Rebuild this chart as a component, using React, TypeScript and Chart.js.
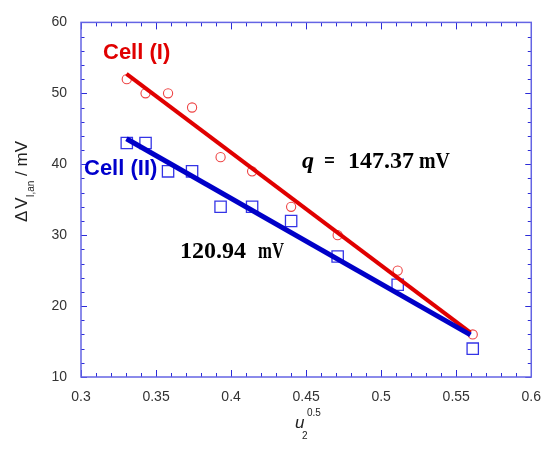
import React, { useEffect, useRef } from 'react';
import { Chart, registerables } from 'chart.js';

Chart.register(...registerables);

// ---- data ----
const xValues = [0.3305, 0.343, 0.358, 0.374, 0.393, 0.414, 0.44, 0.471, 0.511, 0.561];
const cellIValues = [52, 50, 50, 48, 41, 39, 34, 30, 25, 16];
const cellIIValues = [43, 43, 39, 39, 34, 34, 32, 27, 23, 14];
const fitX = [0.3303, 0.5595];
const fitIValues = [52.75, 16.25];
const fitIIValues = [43.6, 15.95];
const xTickLabels = ['0.3', '0.35', '0.4', '0.45', '0.5', '0.55', '0.6'];
const yTickLabels = ['10', '20', '30', '40', '50', '60'];
const xMinorStep = 0.01;
const yMinorStep = 2;

const framePlugin = {
  id: 'frameAndText',
  afterDraw(chart: any) {
    const { ctx, chartArea: a, scales } = chart;
    const xs = scales.x;
    const ys = scales.y;
    ctx.save();
    // inward ticks on all four sides
    ctx.strokeStyle = '#2c2cd8';
    ctx.lineWidth = 1;
    const seg = (x1: number, y1: number, x2: number, y2: number) => {
      ctx.beginPath();
      ctx.moveTo(x1, y1);
      ctx.lineTo(x2, y2);
      ctx.stroke();
    };
    const nx = Math.round((xs.max - xs.min) / xMinorStep);
    for (let i = 0; i <= nx; i++) {
      const px = Math.round(xs.getPixelForValue(xs.min + i * xMinorStep)) + 0.5;
      const L = i % 5 === 0 ? 7 : 4;
      seg(px, a.bottom, px, a.bottom - L);
      seg(px, a.top, px, a.top + L);
    }
    const ny = Math.round((ys.max - ys.min) / yMinorStep);
    for (let i = 0; i <= ny; i++) {
      const py = Math.round(ys.getPixelForValue(ys.min + i * yMinorStep)) + 0.5;
      const L = i % 5 === 0 ? 6 : 3.5;
      seg(a.left, py, a.left + L, py);
      seg(a.right, py, a.right - L, py);
    }
    // frame
    ctx.strokeStyle = '#6464e4';
    ctx.lineWidth = 1.5;
    ctx.strokeRect(a.left, a.top, a.right - a.left, a.bottom - a.top);

    // annotations
    ctx.textBaseline = 'alphabetic';
    ctx.textAlign = 'left';
    ctx.font = 'bold 22px "Liberation Sans"';
    ctx.fillStyle = '#e00000';
    ctx.fillText('Cell (I)', 103, 59);
    ctx.fillStyle = '#0000cc';
    ctx.fillText('Cell (II)', 84, 175);

    ctx.fillStyle = '#000';
    ctx.font = 'italic bold 24px "Liberation Serif"';
    ctx.fillText('q', 302, 168, 12);
    ctx.font = 'bold 24px "Liberation Serif"';
    ctx.fillText('=', 324, 168, 11);
    ctx.fillText('147.37', 348, 168);
    ctx.fillText('mV', 419, 168, 31);
    ctx.fillText('120.94', 180, 257.5);
    ctx.fillText('mV', 258, 257.5, 26);

    // x-axis title
    ctx.fillStyle = '#222';
    ctx.font = 'italic 17px "Liberation Sans"';
    ctx.fillText('u', 295, 428);
    ctx.font = '10px "Liberation Sans"';
    ctx.fillText('2', 302, 439);
    ctx.fillText('0.5', 307, 416);

    // y-axis title (rotated)
    ctx.translate(27, 222);
    ctx.rotate(-Math.PI / 2);
    ctx.font = '17px "Liberation Sans"';
    let cx = 0;
    ctx.fillText('\u0394', cx, 0);
    cx += ctx.measureText('\u0394').width + 2;
    ctx.fillText('V', cx, 0);
    cx += ctx.measureText('V').width;
    ctx.font = '10px "Liberation Sans"';
    ctx.fillText('I,an', cx, 7);
    cx += ctx.measureText('I,an').width;
    ctx.font = '17px "Liberation Sans"';
    ctx.fillText(' / mV', cx, 0);
    ctx.restore();
  },
};

export default function App() {
  const ref = useRef<HTMLCanvasElement | null>(null);
  useEffect(() => {
    document.body.style.margin = '0';
    const canvas = ref.current;
    if (!canvas) return;
    const chart = new Chart(canvas, {
      type: 'scatter',
      data: {
        datasets: [
          {
            type: 'line',
            data: fitX.map((x, i) => ({ x, y: fitIIValues[i] })),
            borderColor: '#0000c8',
            borderWidth: 5,
            pointRadius: 0,
            order: 0,
          } as any,
          {
            type: 'line',
            data: fitX.map((x, i) => ({ x, y: fitIValues[i] })),
            borderColor: '#e00000',
            borderWidth: 4,
            pointRadius: 0,
            order: 1,
          } as any,
          {
            data: xValues.map((x, i) => ({ x, y: cellIIValues[i] })),
            pointStyle: 'rect',
            pointRadius: 8,
            borderColor: '#3434e6',
            borderWidth: 1.3,
            backgroundColor: 'rgba(0,0,0,0)',
            order: 2,
          },
          {
            data: xValues.map((x, i) => ({ x, y: cellIValues[i] })),
            pointStyle: 'circle',
            pointRadius: 4.6,
            borderColor: '#ee4444',
            borderWidth: 1.1,
            backgroundColor: 'rgba(0,0,0,0)',
            order: 3,
          },
        ],
      },
      options: {
        animation: false,
        responsive: false,
        events: [],
        layout: { padding: { top: 13, right: 16, left: 0, bottom: 0 } },
        plugins: { legend: { display: false }, tooltip: { enabled: false } },
        scales: {
          x: {
            type: 'linear',
            min: 0.3,
            max: 0.6,
            grid: { display: false, drawTicks: false },
            border: { display: false },
            ticks: {
              stepSize: 0.05,
              padding: 12,
              color: '#333',
              font: { family: 'Liberation Sans', size: 14 },
              callback: (_v: any, i: number) => xTickLabels[i],
            },
            afterFit: (s: any) => {
              s.height = 73;
            },
          },
          y: {
            type: 'linear',
            min: 10,
            max: 60,
            grid: { display: false, drawTicks: false },
            border: { display: false },
            ticks: {
              stepSize: 10,
              padding: 14,
              color: '#333',
              font: { family: 'Liberation Sans', size: 14 },
              callback: (_v: any, i: number) => yTickLabels[i],
            },
            afterFit: (s: any) => {
              s.width = 81;
            },
          },
        },
      },
      plugins: [framePlugin],
    });
    return () => chart.destroy();
  }, []);
  return (
    <div style={{ width: 553, height: 450 }}>
      <canvas ref={ref} width={553} height={450} style={{ display: 'block' }} />
    </div>
  );
}
